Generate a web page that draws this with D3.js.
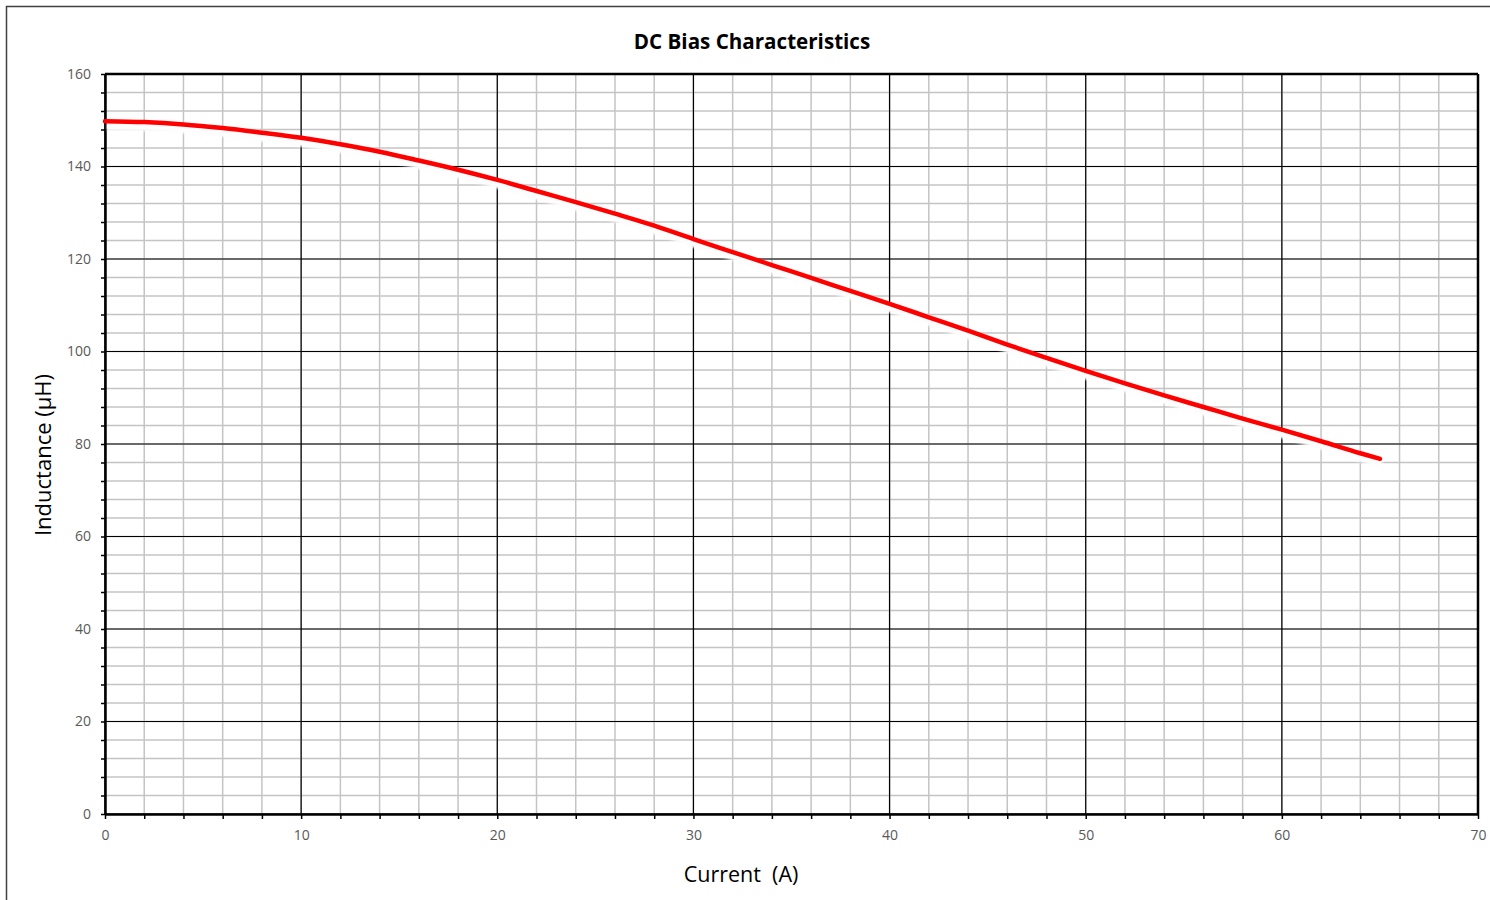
<!DOCTYPE html>
<html>
<head>
<meta charset="utf-8">
<script src="https://cdn.jsdelivr.net/npm/d3@7"></script>
<style>
  body { margin: 0; background: #fff; }
  .tick text { fill: #595959; font-family: "Open Sans", "Noto Sans", sans-serif; font-size: 14px; }
</style>
</head>
<body>
<div id="chart"></div>
<script>
"use strict";

// DC bias curve
var current = [0, 2, 4, 6, 8, 10, 12, 14, 16, 18, 20, 22, 24, 26, 28, 30, 32, 34, 36, 38, 40, 42, 44, 46, 48, 50, 52, 54, 56, 58, 60, 62, 64, 65];
var inductance = [149.8, 149.6, 149.1, 148.3, 147.3, 146.2, 144.8, 143.2, 141.3, 139.3, 137.1, 134.7, 132.3, 129.8, 127.2, 124.3, 121.5, 118.7, 115.9, 113.1, 110.3, 107.4, 104.5, 101.5, 98.6, 95.8, 93.1, 90.5, 88.0, 85.5, 83.1, 80.6, 78.0, 76.8];
var xTicks = [0, 10, 20, 30, 40, 50, 60, 70];
var yTicks = [0, 20, 40, 60, 80, 100, 120, 140, 160];

function renderMyChart() {
    var svg = d3.select("#chart").append("svg")
        .attr("width", 1490)
        .attr("height", 900),
        margin = { top: 74, right: 12, bottom: 86, left: 105 },
        width = +svg.attr("width") - margin.left - margin.right,
        height = +svg.attr("height") - margin.top - margin.bottom;

    // outer chart border (runs off the right/bottom of the picture)
    svg.append("rect")
        .attr("x", 6.5).attr("y", 6.5)
        .attr("width", 1500).attr("height", 1000)
        .attr("fill", "none").attr("stroke", "#404040").attr("stroke-width", 1.5);

    var x = d3.scaleLinear().domain([0, 70]).range([0, width]),
        y = d3.scaleLinear().domain([0, 160]).range([height, 0]);

    var defs = svg.append("defs");
    defs.append("filter").attr("id", "blur")
        .attr("x", "-5%").attr("y", "-20%").attr("width", "110%").attr("height", "140%")
        .append("feGaussianBlur").attr("stdDeviation", 0.9);

    var g = svg.append("g")
        .attr("transform", "translate(" + margin.left + "," + margin.top + ")");

    // minor grid
    var xMinor = d3.range(0, 70.1, 2), yMinor = d3.range(0, 160.1, 4);
    g.append("g").selectAll("line").data(xMinor).enter().append("line")
        .attr("x1", function (d) { return x(d); }).attr("x2", function (d) { return x(d); })
        .attr("y1", 0).attr("y2", height)
        .attr("stroke", "#c4c4c4").attr("stroke-width", 1.5);
    g.append("g").selectAll("line").data(yMinor).enter().append("line")
        .attr("y1", function (d) { return y(d); }).attr("y2", function (d) { return y(d); })
        .attr("x1", 0).attr("x2", width)
        .attr("stroke", "#c4c4c4").attr("stroke-width", 1.5);

    // major grid
    g.append("g").selectAll("line").data(xTicks).enter().append("line")
        .attr("x1", function (d) { return x(d); }).attr("x2", function (d) { return x(d); })
        .attr("y1", 0).attr("y2", height)
        .attr("stroke", "#000").attr("stroke-width", 1.2);
    g.append("g").selectAll("line").data(yTicks).enter().append("line")
        .attr("y1", function (d) { return y(d); }).attr("y2", function (d) { return y(d); })
        .attr("x1", 0).attr("x2", width)
        .attr("stroke", "#000").attr("stroke-width", 1.2);

    // minor tick marks
    g.append("g").attr("transform", "translate(0," + height + ")")
        .call(d3.axisBottom(x).tickValues(xMinor).tickSize(5).tickFormat(""))
        .call(function (s) { s.select(".domain").remove(); s.selectAll("line").attr("stroke-width", 1.5); });
    g.append("g")
        .call(d3.axisLeft(y).tickValues(yMinor).tickSize(4).tickFormat(""))
        .call(function (s) { s.select(".domain").remove(); s.selectAll("line").attr("stroke-width", 1.5); });

    // axes with labels
    g.append("g")
        .attr("class", "axis axis--x")
        .attr("transform", "translate(0," + height + ")")
        .call(d3.axisBottom(x).tickValues(xTicks).tickSize(0).tickPadding(16))
        .call(function (s) { s.select(".domain").attr("stroke-width", 2.5); });
    g.append("g")
        .attr("class", "axis axis--y")
        .call(d3.axisLeft(y).tickValues(yTicks).tickSize(0).tickPadding(14))
        .call(function (s) { s.select(".domain").attr("stroke-width", 2.5); });
    g.append("line")
        .attr("x1", width).attr("x2", width).attr("y1", 0).attr("y2", height)
        .attr("stroke", "#000").attr("stroke-width", 2.5);
    g.append("line")
        .attr("x1", 0).attr("x2", width).attr("y1", 0).attr("y2", 0)
        .attr("stroke", "#000").attr("stroke-width", 2.5);

    var pts = current.map(function (c, i) { return [c, inductance[i]]; });
    var line = d3.line()
        .x(function (d) { return x(d[0]); })
        .y(function (d) { return y(d[1]); })
        .curve(d3.curveMonotoneX);

    // white glow shadow under the curve
    g.append("path")
        .datum(pts)
        .attr("d", line)
        .attr("transform", "translate(2,5)")
        .attr("fill", "none")
        .attr("stroke", "#fdfdfd")
        .attr("stroke-width", 8)
        .attr("filter", "url(#blur)");

    g.append("path")
        .datum(pts)
        .attr("d", line)
        .attr("fill", "none")
        .attr("stroke", "#ff0000")
        .attr("stroke-width", 4.5)
        .attr("stroke-linecap", "round");

    // titles
    svg.append("text")
        .attr("x", 752).attr("y", 49)
        .attr("text-anchor", "middle")
        .attr("font-family", "'Open Sans', sans-serif")
        .attr("font-weight", "bold").attr("font-size", 20.6)
        .attr("fill", "#000")
        .text("DC Bias Characteristics");

    svg.append("text")
        .attr("x", 741).attr("y", 882)
        .attr("text-anchor", "middle")
        .attr("font-family", "'Open Sans', sans-serif")
        .attr("font-size", 21.5)
        .attr("fill", "#000")
        .attr("xml:space", "preserve")
        .text("Current  (A)");

    svg.append("text")
        .attr("transform", "translate(51,455) rotate(-90)")
        .attr("text-anchor", "middle")
        .attr("font-family", "'Open Sans', sans-serif")
        .attr("font-size", 22)
        .attr("fill", "#000")
        .text("Inductance (µH)");
}

renderMyChart();
</script>
</body>
</html>
